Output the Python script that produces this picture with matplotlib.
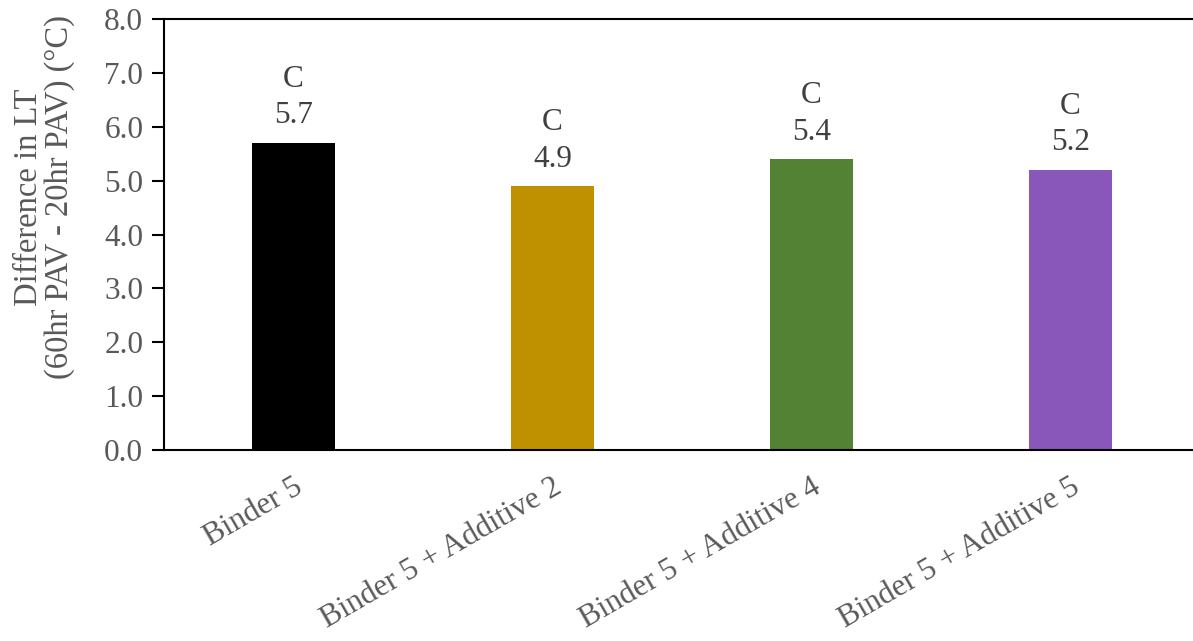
import matplotlib.pyplot as plt

# data
categories = ['Binder 5', 'Binder 5 + Additive 2', 'Binder 5 + Additive 4', 'Binder 5 + Additive 5']
values = [5.7, 4.9, 5.4, 5.2]
value_labels = ['5.7', '4.9', '5.4', '5.2']
groups = ['C', 'C', 'C', 'C']
colors = ['#000000', '#BF9000', '#548235', '#8957BA']

plt.rcParams['font.family'] = ['Liberation Serif', 'DejaVu Serif']

fig = plt.figure(figsize=(11.93, 6.41), dpi=100)
ax = fig.add_axes([164 / 1193, 191 / 641, 1036 / 1193, 431 / 641])

x = list(range(len(categories)))
ax.bar(x, values, width=0.317, color=colors)

for xi, v, g, lab in zip(x, values, groups, value_labels):
    ax.annotate(g + '\n' + lab, (xi, v), xytext=(0, 9), textcoords='offset points',
                ha='center', va='bottom', fontsize=22.5, color='#404040', linespacing=1.35)

ax.set_xlim(-0.5, 3.5)
ax.set_ylim(0, 8)
ax.set_yticks([0, 1, 2, 3, 4, 5, 6, 7, 8])
ax.set_yticklabels(['%.1f' % t for t in range(9)])
ax.set_xticks(x)
ax.set_xticklabels(categories, rotation=30, ha='right', rotation_mode='anchor')

ax.spines['right'].set_visible(False)
for s in ['top', 'bottom', 'left']:
    ax.spines[s].set_linewidth(1.5)
    ax.spines[s].set_color('black')

ax.tick_params(axis='y', direction='out', length=9, width=1.5, labelsize=22.5,
               labelcolor='#595959', pad=6)
ax.tick_params(axis='x', length=0, labelsize=22.5, labelcolor='#595959', pad=16)

# y label sits a bit above the axes centre in the reference
fig.text(44 / 1193, 1 - 197 / 641, 'Difference in LT\n(60hr PAV - 20hr PAV) (°C)',
         rotation=90, ha='center', va='center', fontsize=23.5, color='#595959',
         linespacing=1.0)

fig.savefig('out.png', dpi=100)
